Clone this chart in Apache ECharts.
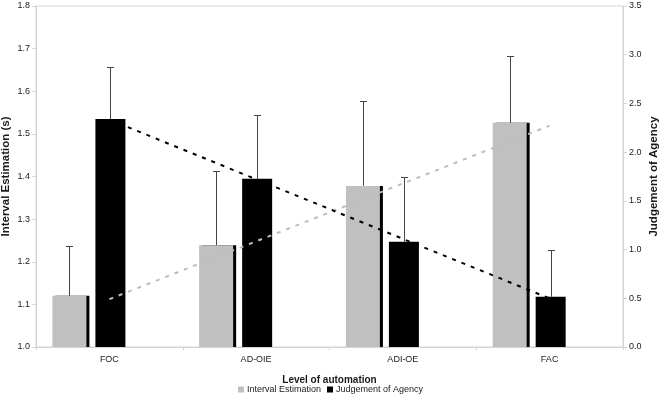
<!DOCTYPE html>
<html>
<head>
<meta charset="utf-8">
<script src="https://cdn.jsdelivr.net/npm/echarts@6/dist/echarts.min.js"></script>
<style>html,body{margin:0;padding:0;background:#fff}#c{width:661px;height:402px}</style>
</head>
<body>
<div id="c"></div>
<script>
var categories = ['FOC', 'AD-OIE', 'ADI-OE', 'FAC'];
var intervalEstimation = [1.120, 1.239, 1.378, 1.526];
var intervalErr = [0.117, 0.175, 0.200, 0.157];
var agency = [2.340, 1.727, 1.081, 0.516];
var agencyErr = [0.537, 0.654, 0.667, 0.480];
var leftTicks = {min: 1.0, max: 1.8, interval: 0.1};
var rightTicks = {min: 0.0, max: 3.5, interval: 0.5};

function linearFit(vals) {
  var n = vals.length, mx = 0, my = 0;
  for (var i = 0; i < n; i++) { mx += i; my += vals[i]; }
  mx /= n; my /= n;
  var sxy = 0, sxx = 0;
  for (var j = 0; j < n; j++) { sxy += (j - mx) * (vals[j] - my); sxx += (j - mx) * (j - mx); }
  var b = sxy / sxx, a = my - b * mx;
  return vals.map(function (_, k) { return +(a + b * k).toFixed(4); });
}

var font = 'Liberation Sans, Arial, sans-serif';
var axisCol = '#d4d4d4';
var textCol = '#1a1a1a';

function errRender(offset) {
  return function (params, api) {
    var base = api.coord([api.value(0), api.value(1)]);
    var top = api.coord([api.value(0), api.value(2)]);
    var cx = Math.round(base[0] + offset) + 0.5;
    var ty = Math.round(top[1]) + 0.5;
    var st = {stroke: '#444', lineWidth: 1};
    return {type: 'group', children: [
      {type: 'line', shape: {x1: cx, y1: base[1], x2: cx, y2: ty}, style: st},
      {type: 'line', shape: {x1: cx - 3.5, y1: ty, x2: cx + 3.5, y2: ty}, style: st}
    ]};
  };
}

var chart = echarts.init(document.getElementById('c'), null, {renderer: 'canvas'});
chart.setOption({
  animation: false,
  backgroundColor: '#fff',
  textStyle: {fontFamily: font},
  grid: {left: 36, right: 38, top: 6, bottom: 55, show: true, borderColor: axisCol, borderWidth: 1,
         containLabel: false, outerBoundsMode: 'none'},
  legend: {
    data: ['Interval Estimation', 'Judgement of Agency'],
    bottom: 3, left: 'center',
    icon: 'rect', itemWidth: 6, itemHeight: 6, itemGap: 6,
    textStyle: {fontSize: 9, color: textCol, fontFamily: font, padding: [0, 0, 0, -2]}
  },
  xAxis: {
    type: 'category', data: categories,
    name: 'Level of automation', nameLocation: 'middle', nameGap: 28, nameMoveOverlap: false,
    nameTextStyle: {fontSize: 10, fontWeight: 'bold', color: textCol, fontFamily: font},
    axisLine: {lineStyle: {color: axisCol}},
    axisTick: {show: true, length: 3, lineStyle: {color: axisCol}},
    axisLabel: {fontSize: 9, color: textCol, margin: 8, fontFamily: font}
  },
  yAxis: [{
    type: 'value', min: leftTicks.min, max: leftTicks.max, interval: leftTicks.interval,
    name: 'Interval Estimation (s)', nameLocation: 'middle', nameGap: 24, nameRotate: 90, nameMoveOverlap: false,
    nameTextStyle: {fontSize: 11.5, fontWeight: 'bold', color: textCol, fontFamily: font},
    axisLine: {show: true, lineStyle: {color: axisCol}},
    axisTick: {show: true, length: 4, lineStyle: {color: axisCol}},
    axisLabel: {fontSize: 9, color: textCol, margin: 6, fontFamily: font, formatter: function (v) { return v.toFixed(1); }},
    splitLine: {show: false}
  }, {
    type: 'value', min: rightTicks.min, max: rightTicks.max, interval: rightTicks.interval,
    name: 'Judgement of Agency', nameLocation: 'middle', nameGap: 25, nameRotate: 90, nameMoveOverlap: false,
    nameTextStyle: {fontSize: 11.5, fontWeight: 'bold', color: textCol, fontFamily: font},
    axisLine: {show: true, lineStyle: {color: axisCol}},
    axisTick: {show: true, length: 4, lineStyle: {color: axisCol}},
    axisLabel: {fontSize: 9, color: textCol, margin: 6, fontFamily: font, formatter: function (v) { return v.toFixed(1); }},
    splitLine: {show: false}
  }],
  series: [{
    name: 'Interval Estimation', type: 'bar', yAxisIndex: 0, data: intervalEstimation,
    barWidth: 34, barGap: '26.47%',
    itemStyle: {color: '#c0c0c0', shadowColor: '#000', shadowOffsetX: 3, shadowOffsetY: 0, shadowBlur: 0},
    z: 2
  }, {
    name: 'Judgement of Agency', type: 'bar', yAxisIndex: 1, data: agency,
    barWidth: 30, barGap: '26.47%',
    itemStyle: {color: '#000'},
    z: 2
  }, {
    name: 'spacer', type: 'bar', yAxisIndex: 0, data: categories.map(function () { return '-'; }),
    barWidth: 33, barGap: '26.47%', itemStyle: {opacity: 0}, silent: true
  }, {
    name: 'IE err', type: 'custom', yAxisIndex: 0,
    data: intervalEstimation.map(function (v, i) { return [i, v, v + intervalErr[i]]; }),
    renderItem: errRender(-40), z: 3
  }, {
    name: 'JoA err', type: 'custom', yAxisIndex: 1,
    data: agency.map(function (v, i) { return [i, v, v + agencyErr[i]]; }),
    renderItem: errRender(1), z: 3
  }, {
    name: 'IE trend', type: 'line', yAxisIndex: 0, data: linearFit(intervalEstimation),
    symbol: 'none', lineStyle: {color: '#bdbdbd', width: 2, type: [4, 6]}, z: 4
  }, {
    name: 'JoA trend', type: 'line', yAxisIndex: 1, data: linearFit(agency),
    symbol: 'none', lineStyle: {color: '#000', width: 2, type: [4, 6]}, z: 4
  }]
});
</script>
</body>
</html>
